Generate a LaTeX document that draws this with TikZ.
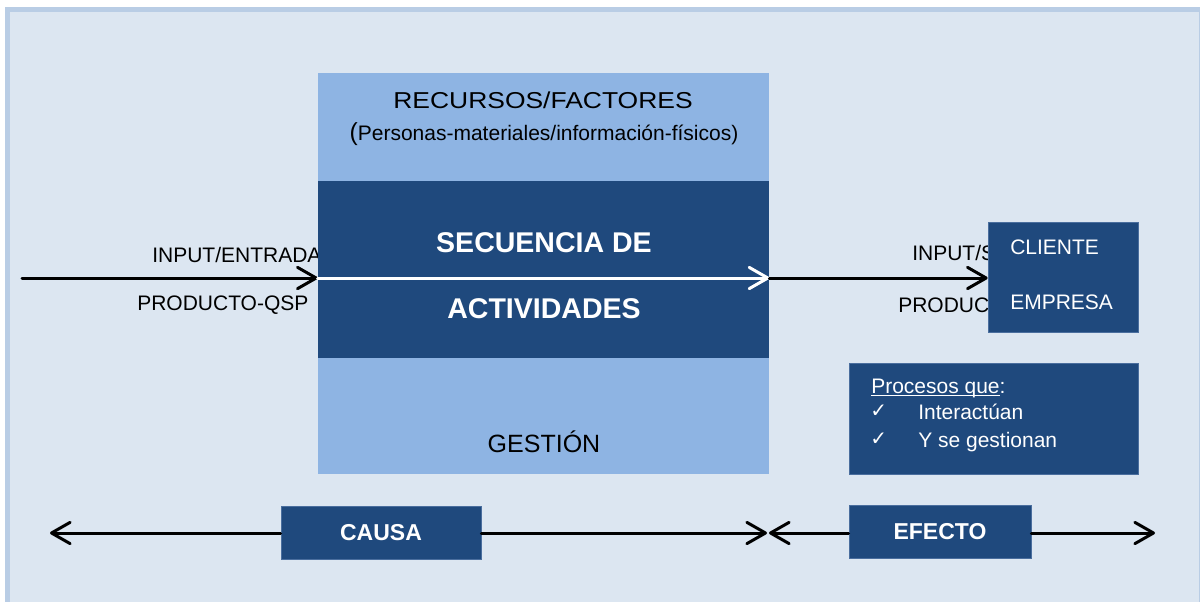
\documentclass[tikz,border=0pt]{standalone}
\usepackage{fontspec}
\setmainfont{Liberation Sans}
\newfontfamily\widefont[FakeStretch=1.15]{Liberation Sans}
\newfontfamily\tickfont{DejaVu Sans}
\usetikzlibrary{arrows.meta}
\definecolor{bgblue}{HTML}{DCE6F1}
\definecolor{frameblue}{HTML}{B9CDE5}
\definecolor{lightblue}{HTML}{8EB4E3}
\definecolor{darkblue}{HTML}{1F497D}
\definecolor{edgeblue}{HTML}{4A6E9E}

\begin{document}
\begin{tikzpicture}[x=0.75pt,y=-0.75pt,
        txt/.style={inner sep=0pt, anchor=base west, font=\fontsize{15.75pt}{19pt}\selectfont},
        txtc/.style={inner sep=0pt, anchor=base, font=\fontsize{15.75pt}{19pt}\selectfont},
        titulo/.style={inner sep=0pt, anchor=base, font=\widefont\fontsize{17.25pt}{20pt}\selectfont},
        gestion/.style={inner sep=0pt, anchor=base, font=\fontsize{18.75pt}{22pt}\selectfont},
        grande/.style={inner sep=0pt, anchor=base, text=white, font=\bfseries\fontsize{21.4pt}{25pt}\selectfont},
        tick/.style={inner sep=0pt, anchor=base west, text=white, font=\tickfont\fontsize{15pt}{17pt}\selectfont},
        lightbox/.style={fill=lightblue, draw=none, inner sep=0pt},
        darkbox/.style={fill=darkblue, draw=edgeblue, line width=0.5pt, inner sep=0pt},
        etiqueta/.style={darkbox, text=white, font=\bfseries\fontsize{17.25pt}{20pt}\selectfont},
        flecha/.style={line width=2.25pt, line cap=round, -{Straight Barb[length=14pt, width=16pt, round]}}]
        \useasboundingbox (0,0) rectangle (1200,601);

        % fondo
        \draw[draw=frameblue, line width=3.4pt, fill=bgblue] (7.5,9.5) rectangle (1201,606);

        \node[txt] (inEnt) at (152,262) {INPUT/ENTRADA};
        \node[txt] (inProd) at (137,310) {PRODUCTO-QSP};
        \node[txt] (outIn) at (912,260) {INPUT/S};
        \node[txt] (outProd) at (898,312) {PRODUC};

        \node[lightbox, minimum width=338.25pt, minimum height=300.75pt] (recursos) at (543.5,273.5) {};
        \node[darkbox, draw=none, minimum width=338.25pt, minimum height=132.75pt] (secuencia) at (543.5,269.5) {};
        \node[darkbox, minimum width=112.5pt, minimum height=82.5pt] (cliente) at (1063,277) {};
        \node[darkbox, minimum width=216.75pt, minimum height=83.25pt] (procesos) at (993.5,418.5) {};
        \node[etiqueta, minimum width=150pt, minimum height=39.75pt] (causa) at (381,532.5) {CAUSA};
        \node[etiqueta, minimum width=136.5pt, minimum height=39.75pt] (efecto) at (940,531.5) {EFECTO};

        \node[titulo] (recTxt) at (543,108.3) {RECURSOS/FACTORES};
        \node[txtc] (persTxt) at (544,140) {{\fontsize{18.5pt}{20pt}\selectfont(}Personas-materiales/información-físicos)};
        \node[grande] (secTxt) at (544,252.3) {SECUENCIA DE};
        \node[grande] (actTxt) at (544,318.3) {ACTIVIDADES};
        \node[gestion] (gestTxt) at (544,452.3) {GESTIÓN};

        \node[txt, text=white] (cliTxt) at (1010,254) {CLIENTE};
        \node[txt, text=white] (empTxt) at (1010,309) {EMPRESA};

        \node[txt, text=white] (procTxt) at (871,393) {\underline{\smash{Procesos que}}:};
        \node[tick] (tick1) at (870,417) {✓};
        \node[tick] (tick2) at (870,445) {✓};
        \node[txt, text=white] (interTxt) at (918,419) {Interactúan};
        \node[txt, text=white] (gestnTxt) at (918,447) {Y se gestionan};

        \coordinate (inIni) at (22,278);
        \draw[flecha] (inIni) -- (inIni -| secuencia.west);
        \draw[flecha, white] (inIni -| secuencia.west) -- (inIni -| secuencia.east);
        \draw[flecha] (inIni -| secuencia.east) -- (inIni -| cliente.west);

        \coordinate (causaIni) at (50,533);
        \coordinate (causaFin) at (767,533);
        \coordinate (efectoIni) at (769,533);
        \coordinate (efectoFin) at (1155,533);
        \draw[flecha] (causaIni -| causa.west) -- (causaIni);
        \draw[flecha] (causaFin -| causa.east) -- (causaFin);
        \draw[flecha] (efectoIni -| efecto.west) -- (efectoIni);
        \draw[flecha] (efectoFin -| efecto.east) -- (efectoFin);
\end{tikzpicture}
\end{document}
